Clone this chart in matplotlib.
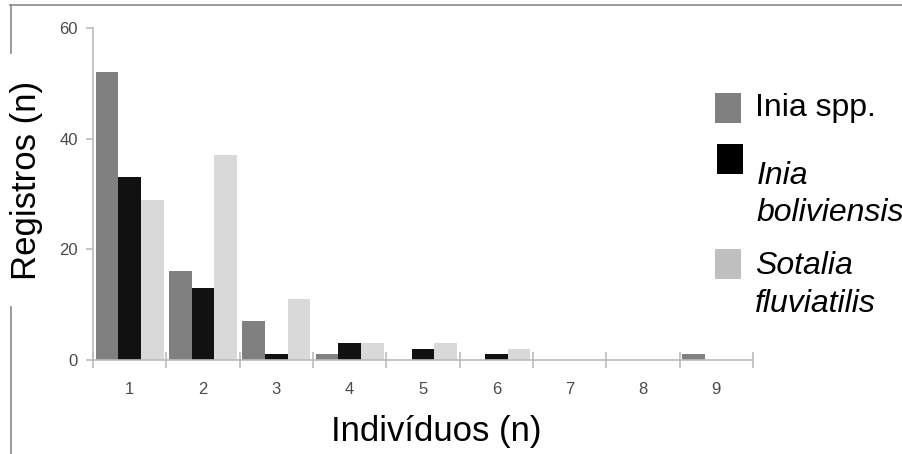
import matplotlib
matplotlib.use("Agg")
import matplotlib.pyplot as plt
import numpy as np
from matplotlib.lines import Line2D
from matplotlib.patches import Rectangle

# values
categories = [1, 2, 3, 4, 5, 6, 7, 8, 9]
inia_spp = [52, 16, 7, 1, 0, 0, 0, 0, 1]
inia_boliviensis = [33, 13, 1, 3, 2, 1, 0, 0, 0]
sotalia_fluviatilis = [29, 37, 11, 3, 3, 2, 0, 0, 0]
yticks = [0, 20, 40, 60]

W, H = 903, 454
fig = plt.figure(figsize=(W / 100, H / 100), dpi=100)
ax = fig.add_axes([93 / W, 1 - 360 / H, 660 / W, 332 / H])

x = np.array(categories)
bw = 0.31
ax.bar(x - bw, inia_spp, bw, color='#808080', linewidth=0)
ax.bar(x, inia_boliviensis, bw, color='#111111', linewidth=0)
ax.bar(x + bw, sotalia_fluviatilis, bw, color='#d9d9d9', linewidth=0)

ax.set_xlim(0.5, 9.5)
ax.set_ylim(0, 60)
for s in ['top', 'right']:
    ax.spines[s].set_visible(False)
for s in ['left', 'bottom']:
    ax.spines[s].set_color('#bbbbbb')
    ax.spines[s].set_linewidth(1.2)

tick_font = 'Liberation Sans'
ax.set_yticks(yticks)
ax.set_yticklabels([str(v) for v in yticks], family=tick_font, fontsize=12, color='#4a4a4a')
ax.tick_params(axis='y', length=5, width=1.2, color='#bbbbbb', pad=6)

ax.set_xticks(categories)
ax.set_xticklabels([str(c) for c in categories], family=tick_font, fontsize=12, color='#4a4a4a')
ax.set_xticks(np.arange(0.5, 10, 1), minor=True)
ax.tick_params(axis='x', which='major', length=0, pad=16)
ax.tick_params(axis='x', which='minor', direction='inout', length=11, width=1.2, color='#bbbbbb')

fig.text(27 / W, 1 - 180 / H, 'Registros (n)', rotation=90, ha='center', va='center',
         family='Liberation Sans', fontsize=25)
fig.text(436 / W, 1 - 432 / H, 'Indivíduos (n)', ha='center', va='center',
         family='Liberation Sans', fontsize=25)

# legend drawn by hand
legend_patches = [(715, 93, '#808080'), (717, 144, '#000000'), (715, 249, '#bfbfbf')]
for px, py, c in legend_patches:
    fig.add_artist(Rectangle((px / W, 1 - (py + 30) / H), 26 / W, 30 / H,
                             transform=fig.transFigure, color=c, linewidth=0))
fig.text(755 / W, 1 - 108 / H, 'Inia spp.', va='center', family='Liberation Sans', fontsize=23)
fig.text(757 / W, 1 - 184 / H, 'Inia', va='baseline', style='italic',
         family='Liberation Sans', fontsize=23)
fig.text(757 / W, 1 - 221 / H, 'boliviensis', va='baseline', style='italic',
         family='Liberation Sans', fontsize=23)
fig.text(755 / W, 1 - 274 / H, 'Sotalia', va='baseline', style='italic',
         family='Liberation Sans', fontsize=23)
fig.text(755 / W, 1 - 312 / H, 'fluviatilis', va='baseline', style='italic',
         family='Liberation Sans', fontsize=23)

# frame pieces around the image
fc = '#8a8a8a'
fig.add_artist(Line2D([10 / W, 1], [1 - 5 / H, 1 - 5 / H], color=fc, lw=1.2))
fig.add_artist(Line2D([11 / W, 11 / W], [1 - 5 / H, 1 - 53 / H], color=fc, lw=1.2))
fig.add_artist(Line2D([11 / W, 11 / W], [1 - 307 / H, 0], color=fc, lw=1.2))

fig.savefig('out.png', dpi=100)
